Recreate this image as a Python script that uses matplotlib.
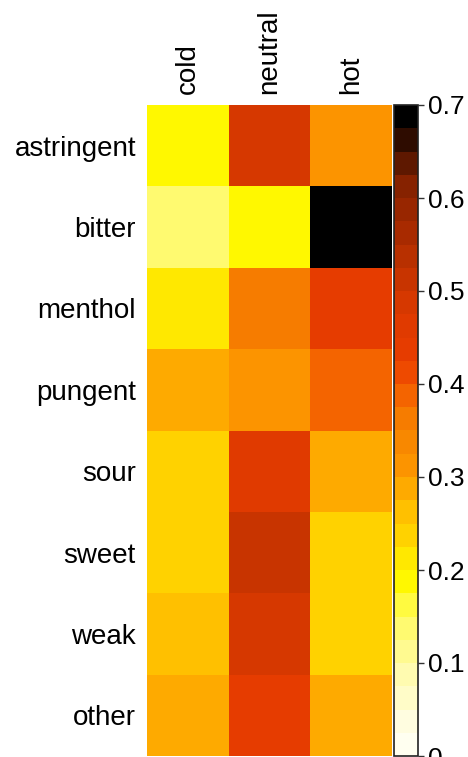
import numpy as np
import matplotlib
matplotlib.use("Agg")
import matplotlib.pyplot as plt
from matplotlib.colors import ListedColormap, BoundaryNorm

plt.rcParams['font.family'] = ['Liberation Sans', 'DejaVu Sans']

# data
tastes = ["astringent", "bitter", "menthol", "pungent", "sour", "sweet", "weak", "other"]
temps = ["cold", "neutral", "hot"]
cold = [0.19, 0.135, 0.21, 0.285, 0.235, 0.235, 0.26, 0.285]
neutral = [0.485, 0.19, 0.36, 0.31, 0.46, 0.51, 0.485, 0.435]
hot = [0.31, 0.69, 0.435, 0.385, 0.285, 0.235, 0.235, 0.285]

values = np.column_stack([cold, neutral, hot])

# discrete colour scale, 0.025 steps from 0 to 0.7
band_colors = [
    "#fffff0", "#fffde0", "#fffcc8", "#fffbb0", "#fffa90", "#fffa70", "#fffa40",
    "#fff800", "#ffe800", "#ffd200", "#ffc000", "#feaa00", "#fc9400", "#f88800",
    "#f67c00", "#f46400", "#ee4a00", "#e63c00", "#e03a00", "#d63800", "#c83400",
    "#b83000", "#a82a00", "#982600", "#862200", "#5e1800", "#2e0c00", "#000000",
]
bounds = np.linspace(0, 0.7, len(band_colors) + 1)
cmap = ListedColormap(band_colors)
norm = BoundaryNorm(bounds, cmap.N)

fig = plt.figure(figsize=(4.68, 7.57), dpi=100)
ax = fig.add_axes([147 / 468, 1 - 756 / 757, 245 / 468, 651 / 757])
cax = fig.add_axes([394 / 468, 1 - 756 / 757, 24 / 468, 651 / 757])

im = ax.pcolormesh(values, cmap=cmap, norm=norm)
ax.set_xlim(0, 3)
ax.set_ylim(len(tastes), 0)
ax.set_xticks(np.arange(len(temps)) + 0.5)
ax.set_xticklabels(temps, rotation=90, fontsize=20)
ax.set_yticks(np.arange(len(tastes)) + 0.5)
ax.set_yticklabels(tastes, fontsize=20)
ax.xaxis.tick_top()
ax.tick_params(length=0, pad=8)
for s in ax.spines.values():
    s.set_visible(False)

cb = fig.colorbar(im, cax=cax, ticks=[0, 0.1, 0.2, 0.3, 0.4, 0.5, 0.6, 0.7])
cb.minorticks_off()
cb.ax.set_yticklabels(["0", "0.1", "0.2", "0.3", "0.4", "0.5", "0.6", "0.7"])
cb.ax.tick_params(labelsize=19, length=4, width=1, pad=3, color="#333333")
cb.outline.set_edgecolor("#222222")
cb.outline.set_linewidth(1.2)

fig.savefig("out.png", dpi=100)
